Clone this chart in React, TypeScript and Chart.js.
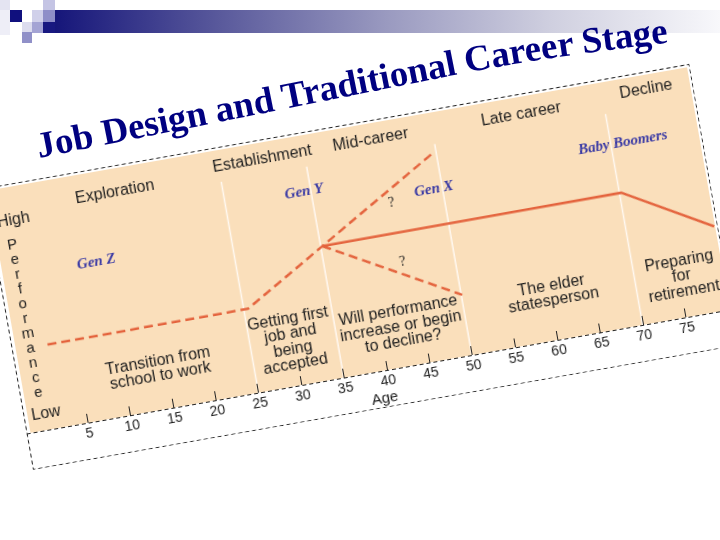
import React, { useEffect, useRef } from 'react';
import { Chart, registerables } from 'chart.js';

Chart.register(...registerables);

// ---- data ----
const AGE_TICKS = [5, 10, 15, 20, 25, 30, 35, 40, 45, 50, 55, 60, 65, 70, 75];
const STAGE_BOUNDS = [25, 35, 50, 70];
const STAGES = ['Exploration', 'Establishment', 'Mid-career', 'Late career', 'Decline'];
const STAGE_X = [12.7, 30.1, 42.8, 60.4, 75.1];
const STAGE_Y = [89.5, 92, 92.2, 91.6, 92.8];
const DESC_LINES = [
  ['Transition from', 'school to work'],
  ['Getting first', 'job and', 'being', 'accepted'],
  ['Will performance', 'increase or begin', 'to decline?'],
  ['The elder', 'statesperson'],
  ['Preparing', 'for', 'retirement'],
];
const DESC_X = [14.2, 29.8, 42.5, 60.4, 75.4];
const DESC_Y = [16.5, 17.9, 16.3, 18.9, 16.5];
const GEN_LABELS = ['Gen Z', 'Gen Y', 'Gen X', 'Baby Boomers'];
const GEN_X = [9.2, 34.2, 49, 71.4];
const GEN_Y = [63, 76.3, 68.3, 73.3];
const Q_X = [43.9, 44];
const Q_Y = [65.7, 41.8];
const EARLY_AGES = [2, 25.5, 35.2, 49.6];
const EARLY_PERF = [33.7, 33.9, 53.5, 82.6];
const MAIN_AGES = [35.2, 70.2, 80.1];
const MAIN_PERF = [53.5, 53.8, 34.0];
const DOWN_AGES = [35.2, 50.1];
const DOWN_PERF = [53.5, 24.5];
const Y_LETTERS = 'Performance'.split('');
const TITLE = 'Job Design and Traditional Career Stage';

const LINE_COLOR = '#E4643E';
const PEACH = '#FADFBB';
const INK = '#1E1E1E';
const BLUE = '#3B3BA5';
const SANS = "'Liberation Sans', Arial, sans-serif";
const SERIF = "'Liberation Serif', 'Times New Roman', serif";

const pts = (xs: number[], ys: number[]) => xs.map((x, i) => ({ x, y: ys[i] }));

const decor = {
  id: 'decor',
  beforeDraw(chart: any) {
    const { ctx, chartArea: a, scales } = chart;
    const xs = scales.x, ys = scales.y;
    ctx.save();
    ctx.fillStyle = PEACH;
    ctx.fillRect(a.left, a.top + 3, a.right - a.left, a.bottom - a.top - 3);
    ctx.strokeStyle = '#FFF9F2';
    ctx.lineWidth = 1.5;
    STAGE_BOUNDS.forEach((b) => {
      const x = xs.getPixelForValue(b);
      ctx.beginPath();
      ctx.moveTo(x, ys.getPixelForValue(86));
      ctx.lineTo(x, ys.getPixelForValue(0));
      ctx.stroke();
    });
    ctx.restore();
  },
  afterDatasetsDraw(chart: any) {
    const { ctx, chartArea: a, scales, width, height } = chart;
    const xs = scales.x, ys = scales.y;
    ctx.save();
    ctx.fillStyle = INK;
    ctx.textAlign = 'center';
    ctx.textBaseline = 'middle';
    // stage titles
    ctx.font = `16px ${SANS}`;
    STAGES.forEach((s, i) => ctx.fillText(s, xs.getPixelForValue(STAGE_X[i]), ys.getPixelForValue(STAGE_Y[i])));
    // descriptions
    DESC_LINES.forEach((lines, i) => {
      const cx = xs.getPixelForValue(DESC_X[i]);
      const cy = ys.getPixelForValue(DESC_Y[i]);
      const lh = 15.5;
      lines.forEach((l, j) => ctx.fillText(l, cx, cy + (j - (lines.length - 1) / 2) * lh));
    });
    // y axis letters
    ctx.font = `15px ${SANS}`;
    const top = 75.5, bot = 15.3;
    Y_LETTERS.forEach((c, i) => {
      const v = top - (i * (top - bot)) / (Y_LETTERS.length - 1);
      ctx.fillText(c, xs.getPixelForValue(0), ys.getPixelForValue(v));
    });
    ctx.font = `16px ${SANS}`;
    ctx.textAlign = 'left';
    ctx.fillText('High', xs.getPixelForValue(-1.27), ys.getPixelForValue(85.5));
    ctx.textAlign = 'center';
    ctx.fillText('Low', xs.getPixelForValue(0.46), ys.getPixelForValue(6.4));
    // generation labels
    ctx.fillStyle = BLUE;
    ctx.font = `italic bold 15px ${SERIF}`;
    GEN_LABELS.forEach((g, i) => ctx.fillText(g, xs.getPixelForValue(GEN_X[i]), ys.getPixelForValue(GEN_Y[i])));
    ctx.fillStyle = INK;
    ctx.font = `14px ${SERIF}`;
    Q_X.forEach((q, i) => ctx.fillText('?', xs.getPixelForValue(q), ys.getPixelForValue(Q_Y[i])));
    // inward tick marks
    ctx.strokeStyle = '#222';
    ctx.lineWidth = 1;
    AGE_TICKS.forEach((t) => {
      const x = Math.round(xs.getPixelForValue(t)) + 0.5;
      ctx.beginPath();
      ctx.moveTo(x, a.bottom);
      ctx.lineTo(x, a.bottom - 9);
      ctx.stroke();
    });
    // dashed axis line and frame
    ctx.setLineDash([4, 3]);
    ctx.beginPath();
    ctx.moveTo(0, a.bottom + 0.5);
    ctx.lineTo(width, a.bottom + 0.5);
    ctx.stroke();
    ctx.strokeRect(0.5, 0.5, width - 1, height - 1);
    ctx.restore();
  },
};

export default function App() {
  const ref = useRef<HTMLCanvasElement>(null);
  useEffect(() => {
    const dashed = { borderColor: LINE_COLOR, borderWidth: 2.5, borderDash: [9, 5], pointRadius: 0, showLine: true, fill: false, tension: 0 };
    const chart = new Chart(ref.current as HTMLCanvasElement, {
      type: 'scatter',
      data: {
        datasets: [
          { ...dashed, label: 'early', data: pts(EARLY_AGES, EARLY_PERF) },
          { ...dashed, label: 'down', data: pts(DOWN_AGES, DOWN_PERF) },
          { label: 'main', data: pts(MAIN_AGES, MAIN_PERF), borderColor: LINE_COLOR, borderWidth: 2.5, pointRadius: 0, showLine: true, fill: false },
        ],
      },
      options: {
        animation: false,
        responsive: false,
        events: [],
        layout: { padding: { left: 4, right: 3, top: 0, bottom: 0 } },
        plugins: { legend: { display: false }, tooltip: { enabled: false } },
        scales: {
          x: {
            type: 'linear',
            min: -1.7,
            max: 80.2,
            grid: { display: false, drawTicks: false },
            border: { display: false },
            afterBuildTicks: (s: any) => {
              s.ticks = AGE_TICKS.map((v) => ({ value: v }));
            },
            afterFit: (s: any) => {
              s.height = 37;
            },
            ticks: { color: INK, font: { family: SANS, size: 14 }, padding: 3, maxRotation: 0, autoSkip: false },
            title: { display: true, text: 'Age', color: INK, font: { family: SANS, size: 15 }, padding: 0 },
          },
          y: { display: false, min: 0, max: 100 },
        },
      },
      plugins: [decor],
    } as any);
    return () => chart.destroy();
  }, []);

  const squares: [number, number, number, number, string][] = [
    [0, 0, 10, 10, '#E4E4F2'],
    [0, 10, 10, 25, '#EEEEF7'],
    [10, 10, 12, 12, '#10107E'],
    [32, 10, 11, 12, '#D0D0EA'],
    [43, 0, 12, 10, '#C4C4E4'],
    [43, 10, 12, 12, '#8E8EC8'],
    [22, 22, 10, 10, '#DCDCEE'],
    [32, 22, 11, 11, '#A4A4D4'],
    [43, 22, 12, 11, '#181880'],
    [22, 32, 10, 11, '#9090C8'],
  ];

  return (
    <div style={{ position: 'fixed', left: 0, top: 0, width: 720, height: 540, background: '#fff', overflow: 'hidden' }}>
      <div
        style={{
          position: 'absolute', left: 55, top: 10, width: 665, height: 23,
          background: 'linear-gradient(to right, #16167A 0%, #5A5A9C 25%, #9A9AC0 50%, #D0D0E0 75%, #F8F8FB 100%)',
        }}
      />
      {squares.map(([x, y, w, h, c], i) => (
        <div key={i} style={{ position: 'absolute', left: x, top: y, width: w, height: h, background: c }} />
      ))}
      <div
        style={{
          position: 'absolute', left: 33, top: 184, width: 717, height: 286,
          transformOrigin: '0px 286px', transform: 'rotate(-10deg)',
        }}
      >
        <canvas ref={ref} width={717} height={286} style={{ display: 'block', width: 717, height: 286 }} />
      </div>
      <svg width={720} height={540} style={{ position: 'absolute', left: 0, top: 0, pointerEvents: 'none' }}>
        <defs>
          <path id="titlePath" d="M 39 158 L 450.9 75.7 Q 558.4 54.2 690 40.5" fill="none" />
        </defs>
        <text fontFamily={SERIF} fontWeight="bold" fontSize={36.8} fill="#000080">
          <textPath href="#titlePath">{TITLE}</textPath>
        </text>
      </svg>
    </div>
  );
}
